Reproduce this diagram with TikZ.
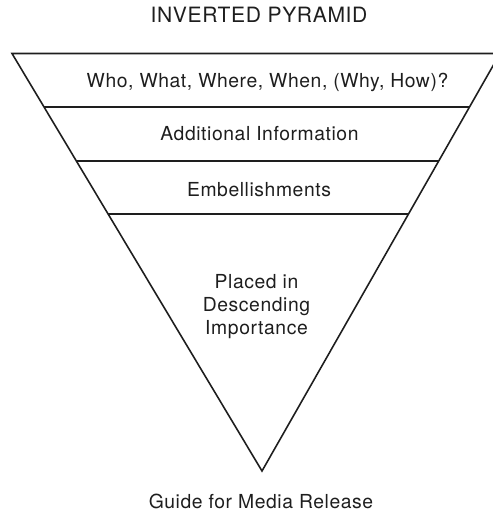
\documentclass[tikz,border=0pt]{standalone}
\usepackage{fontspec}
\setmainfont[LetterSpace=3]{TeX Gyre Heros}
\definecolor{encre}{HTML}{1E1E1E}
\tikzset{
  label/.style={anchor=base, text=encre, inner sep=0pt,
    font=\fontsize{11}{12.9}\selectfont, align=center},
  trait/.style={draw=encre, line width=0.9pt, line join=miter}
}
\begin{document}
\begin{tikzpicture}[x=0.02cm,y=-0.02cm]
\useasboundingbox (0,0) rectangle (493,512);
\clip (0,0) rectangle (493,512);

% Titre
\node[label, font=\fontsize{12}{14}\selectfont] (titre) at (259,22.7) {INVERTED PYRAMID};

% Pyramide
\draw[trait]
(12,53.5)
--
(500,53.5)
--
(262,471)
--
cycle;

% Tranches
\draw[trait] (43.8,107) -- (469.1,107);
\draw[trait] (76.2,161) -- (438.4,161);
\draw[trait] (108,214) -- (408.2,214);

% Textes
\node[label] (qui) at (267.5,87) {Who, What, Where, When, (Why, How)?};
\node[label] (info) at (259.5,140.7) {Additional Information};
\node[label] (embel) at (259,196) {Embellishments};
\node[label] (ordre) at (256.5,334) {Placed in\\Descending\\Importance};

\node[label] (guide) at (261,508) {Guide for Media Release};

\end{tikzpicture}
\end{document}
